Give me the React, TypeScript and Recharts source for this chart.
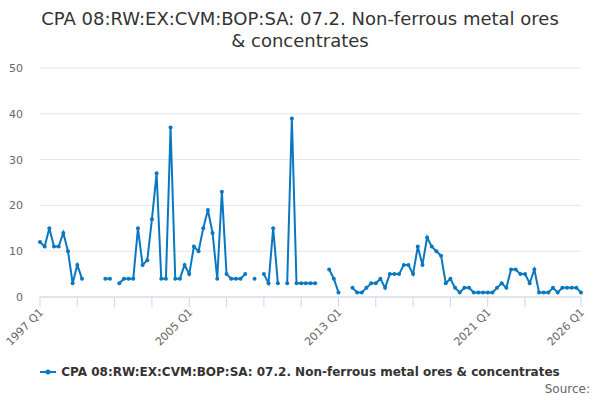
import { LineChart, Line, XAxis, YAxis, CartesianGrid } from 'recharts'

document.body.style.margin = '0'

const startYear = 1997
const quarterCount = 117

// quarterly values, null where the series has no data
const values: (number | null)[] = [
  12, 11, 15, 11, 11, 14, 10, 3, 7, 4,
  null, null, null, null, 4, 4, null, 3, 4, 4,
  4, 15, 7, 8, 17, 27, 4, 4, 37, 4,
  4, 7, 5, 11, 10, 15, 19, 14, 4, 23,
  5, 4, 4, 4, 5, null, 4, null, 5, 3,
  15, 3, null, 3, 39, 3, 3, 3, 3, 3,
  null, null, 6, 4, 1, null, null, 2, 1, 1,
  2, 3, 3, 4, 2, 5, 5, 5, 7, 7,
  5, 11, 7, 13, 11, 10, 9, 3, 4, 2,
  1, 2, 2, 1, 1, 1, 1, 1, 2, 3,
  2, 6, 6, 5, 5, 3, 6, 1, 1, 1,
  2, 1, 2, 2, 2, 2, 1,
]

const quarters: string[] = Array.from(
  { length: quarterCount },
  (_, i) => `${startYear + Math.floor(i / 4)} Q${(i % 4) + 1}`
)

const xTicks = [
  '1997 Q1', '1999 Q1', '2001 Q1', '2003 Q1', '2005 Q1', '2007 Q1', '2009 Q1',
  '2011 Q1', '2013 Q1', '2015 Q1', '2017 Q1', '2019 Q1', '2021 Q1', '2023 Q1', '2026 Q1',
]
const xLabels = ['1997 Q1', '2005 Q1', '2013 Q1', '2021 Q1', '2026 Q1']
const yTicks = [0, 10, 20, 30, 40, 50]

const seriesName = 'CPA 08:RW:EX:CVM:BOP:SA: 07.2. Non-ferrous metal ores & concentrates'
const color = '#0a78c0'
const font = '"DejaVu Sans", sans-serif'

const data = quarters.map((q, i) => ({ q, v: values[i] }))

function QuarterTick(props: any) {
  const { x, y, payload } = props
  if (!xLabels.includes(payload.value)) return null
  return (
    <g transform={`translate(${x + 4},${y + 4})`}>
      <text textAnchor="end" transform="rotate(-45)" fill="#666" fontSize={11} fontFamily={font}>
        {payload.value}
      </text>
    </g>
  )
}

export default function App() {
  return (
    <div style={{ position: 'relative', width: 600, height: 400, fontFamily: font, background: '#fff' }}>
      <div
        style={{
          position: 'absolute', top: 8, left: 0, width: 600, textAlign: 'center',
          fontSize: 18, lineHeight: '22px', color: '#333',
        }}
      >
        CPA 08:RW:EX:CVM:BOP:SA: 07.2. Non-ferrous metal ores
        <br />& concentrates
      </div>
      <LineChart width={600} height={400} data={data} margin={{ top: 68, right: 19, left: 0, bottom: 53 }}>
        <CartesianGrid vertical={false} stroke="#e6e6e6" />
        <XAxis
          dataKey="q"
          ticks={xTicks}
          interval={0}
          tick={<QuarterTick />}
          tickSize={10}
          tickLine={{ stroke: '#ccd6eb' }}
          axisLine={{ stroke: '#ccd6eb' }}
          height={50}
        />
        <YAxis
          domain={[0, 50]}
          ticks={yTicks}
          width={40}
          axisLine={false}
          tickLine={false}
          tickMargin={11}
          tick={{ fill: '#666', fontSize: 11, fontFamily: font }}
        />
        <Line
          dataKey="v"
          stroke={color}
          strokeWidth={2}
          dot={{ r: 2, fill: color, stroke: color, strokeWidth: 0 }}
          connectNulls={false}
          isAnimationActive={false}
        />
      </LineChart>
      <div style={{ position: 'absolute', top: 365, left: 0, width: 600, display: 'flex', justifyContent: 'center', alignItems: 'center' }}>
        <svg width={16} height={10} style={{ marginRight: 5 }}>
          <line x1={0} y1={5} x2={16} y2={5} stroke={color} strokeWidth={2} />
          <circle cx={8} cy={5} r={2.5} fill={color} />
        </svg>
        <span style={{ fontSize: 12, fontWeight: 'bold', color: '#333' }}>{seriesName}</span>
      </div>
      <div style={{ position: 'absolute', top: 382, right: 10, fontSize: 12, color: '#666' }}>Source:</div>
    </div>
  )
}
